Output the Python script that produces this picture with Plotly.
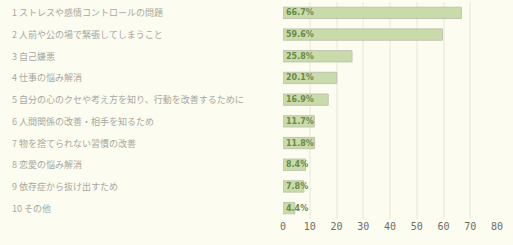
import plotly.graph_objects as go

categories = [
    "1 ストレスや感情コントロールの問題",
    "2 人前や公の場で緊張してしまうこと",
    "3 自己嫌悪",
    "4 仕事の悩み解消",
    "5 自分の心のクセや考え方を知り、行動を改善するために",
    "6 人間関係の改善・相手を知るため",
    "7 物を捨てられない習慣の改善",
    "8 恋愛の悩み解消",
    "9 依存症から抜け出すため",
    "10 その他",
]
values = [66.7, 59.6, 25.8, 20.1, 16.9, 11.7, 11.8, 8.4, 7.8, 4.4]
value_labels = ["66.7%", "59.6%", "25.8%", "20.1%", "16.9%", "11.7%", "11.8%", "8.4%", "7.8%", "4.4%"]
x_ticks = [0, 10, 20, 30, 40, 50, 60, 70, 80]

W, H = 513, 245
ml, mr, mt, mb = 283, 16, 2, 26
plot_w = W - ml - mr

fig = go.Figure()
fig.add_trace(go.Bar(
    y=categories, x=values, orientation="h",
    width=0.52,
    marker=dict(color="#c9dbaa", line=dict(color="#bdc5af", width=1)),
    text=["<b>" + t + "</b>" for t in value_labels],
    textposition="inside", insidetextanchor="start",
    textfont=dict(family="DejaVu Sans", size=8, color="#6a8a4a"),
    textangle=0, cliponaxis=False,
))

for c in categories:
    fig.add_annotation(
        x=-(ml - 10) / plot_w, xref="paper", y=c, yref="y",
        text=c, showarrow=False, xanchor="left", yanchor="middle",
        font=dict(family="Noto Sans CJK JP", size=9, color="#a8a8a0"),
    )

fig.update_layout(
    width=W, height=H,
    margin=dict(l=ml, r=mr, t=mt, b=mb),
    paper_bgcolor="#fcfcf1", plot_bgcolor="#fcfcf1",
    showlegend=False,
    uniformtext=dict(minsize=7, mode="show"),
)
fig.update_xaxes(
    range=[0, 80], tickvals=x_ticks, showgrid=True, gridcolor="#f1f1e4", gridwidth=2,
    zeroline=False, showline=False,
    tickfont=dict(family="DejaVu Sans Mono", size=10, color="#6e6e66"),
)
fig.update_yaxes(autorange="reversed", showticklabels=False, showgrid=False, zeroline=False)

fig.write_html(
    "out.html",
    config={"displayModeBar": False},
    post_script="document.body.style.margin='0';document.body.style.background='#fcfcf1';",
)
